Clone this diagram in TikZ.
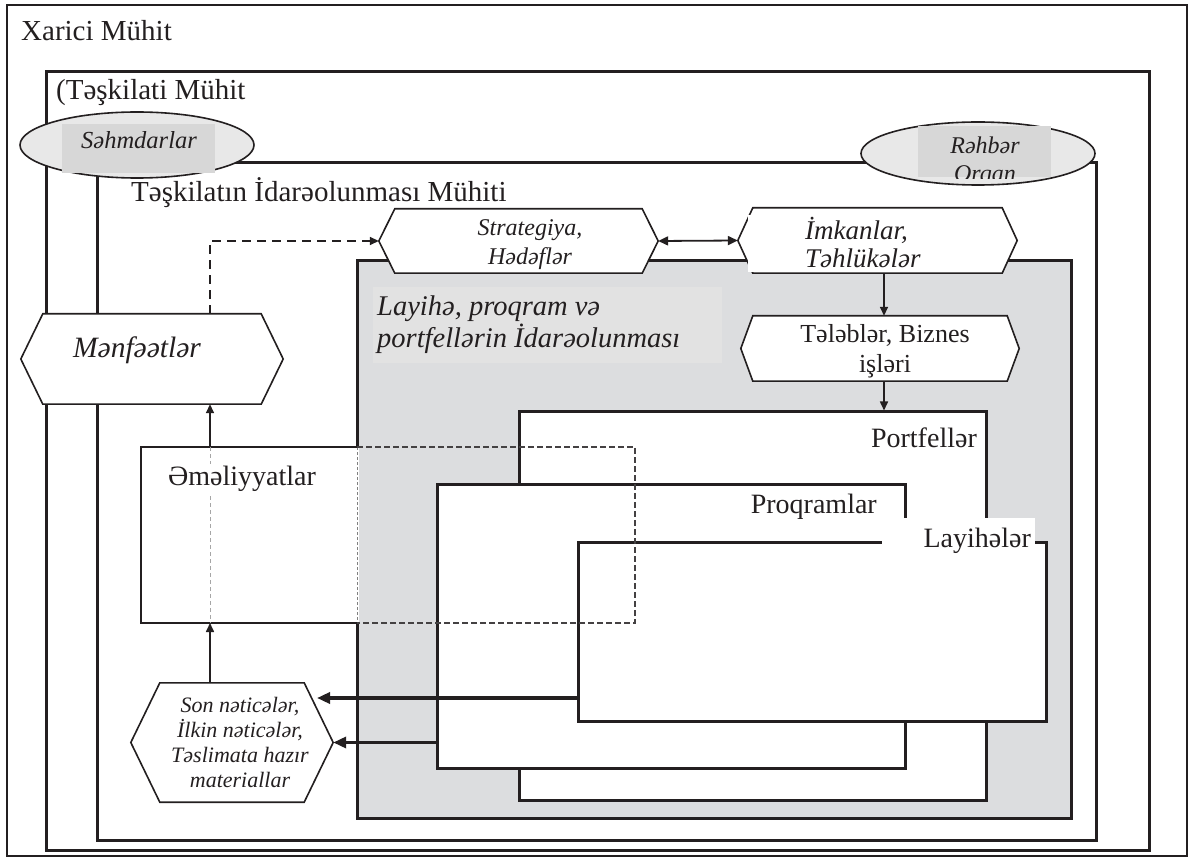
\documentclass[tikz,border=0pt]{standalone}
\usepackage{fontspec}
\setmainfont{Liberation Serif}
\usetikzlibrary{arrows.meta,shapes.geometric}
\definecolor{ink}{HTML}{231F20}
\definecolor{shade}{HTML}{DCDDDF}
\definecolor{lblshade}{HTML}{E2E2E2}
\definecolor{ellfill}{HTML}{E8E8E8}
\definecolor{ellinner}{HTML}{D7D7D7}
\newcommand\fs[2]{\fontsize{#1}{#2}\selectfont}
\newcommand\hexa[2]{%
  \path[hexline] (#1.west) -- ([xshift=#2pt]#1.north west) -- ([xshift=-#2pt]#1.north east) -- (#1.east)
    -- ([xshift=-#2pt]#1.south east) -- ([xshift=#2pt]#1.south west) -- cycle;}
\tikzset{
  boxnode/.style={rectangle, draw=ink, line width=3pt, inner sep=0pt},
  hexframe/.style={rectangle, inner sep=0pt, draw=none},
  hexline/.style={draw=ink, fill=white, line width=1.6pt, line join=miter},
  arr/.style={-{Triangle[length=9pt,width=8pt]}, draw=ink, line width=1.6pt},
  darr/.style={{Triangle[length=10pt,width=9pt]}-{Triangle[length=10pt,width=9pt]}, draw=ink, line width=1.8pt},
  dasharr/.style={-{Triangle[length=9pt,width=8pt]}, draw=ink, line width=1.6pt, dash pattern=on 9pt off 6pt},
  bigarr/.style={-{Triangle[length=13pt,width=11pt]}, draw=ink, line width=3.5pt},
  ell/.style={ellipse, draw=ink, fill=ellfill, line width=1.6pt, inner sep=0pt},
  head/.style={font=\fs{29}{33}, text=ink, inner sep=0pt},
  lbl/.style={font=\fs{28}{32}, text=ink, inner sep=0pt},
  itl/.style={text=ink, inner sep=0pt},
}
\begin{document}
\begin{tikzpicture}[x=1pt,y=-1pt]
\useasboundingbox (0,0) rectangle (1189,858);
\fill[white] (0,0) rectangle (1189,858);
% nested frames
\node[boxnode, line width=2.5pt, minimum width=1180pt, minimum height=851pt] (outer) at (597,430.5) {};
\node[head, anchor=base west] (outer-t) at (21,41) {Xarici Mühit};
\node[boxnode, minimum width=1103pt, minimum height=778pt] (org) at (597.5,461) {};
\node[head, anchor=base west] (org-t) at (56,100) {(Təşkilati Mühit};
\node[boxnode, minimum width=999pt, minimum height=677pt] (gov) at (596.5,501.5) {};
\node[head, anchor=base west] (gov-t) at (131,202) {Təşkilatın İdarəolunması Mühiti};
% shaded management area
\node[boxnode, fill=shade, minimum width=714pt, minimum height=557pt] (ppm) at (714,539.5) {};
\fill[lblshade] (373,287) rectangle (722,363);
\node[itl, font=\fs{28.5}{32}\itshape, align=left, anchor=west] (ppm-t) at (377,324.5) {Layihə, proqram və\\portfellərin İdarəolunması};
% portfolio / program / project boxes
\node[boxnode, fill=white, minimum width=467pt, minimum height=388pt] (port) at (752.5,606) {};
\node[lbl, anchor=base east] (port-t) at (977,447) {Portfellər};
\node[boxnode, fill=white, minimum width=468pt, minimum height=284pt] (prog) at (671,626) {};
\node[lbl, anchor=base east] (prog-t) at (877,513) {Proqramlar};
\node[boxnode, fill=white, minimum width=468pt, minimum height=179pt] (lay) at (812,631.5) {};
\fill[white] (882,518) rectangle (1035,560);
\node[lbl, anchor=base east] (lay-t) at (1031,547) {Layihələr};
% operations box
\coordinate (op-nw) at (141,447);
\coordinate (op-sw) at (141,623);
\coordinate (op-nm) at (357,447);
\coordinate (op-sm) at (357,623);
\coordinate (op-ne) at (635,447);
\coordinate (op-se) at (635,623);
\coordinate (op-top) at (210,447);
\coordinate (op-bot) at (210,623);
\fill[white] (op-nw) rectangle (359,623);
\draw[ink, line width=2.2pt] (op-nm) -- (op-nw) -- (op-sw) -- (op-sm);
\draw[gray, line width=0.8pt, dash pattern=on 3pt off 2pt] (op-nm) -- (op-sm);
\draw[ink!85, line width=1.5pt, dash pattern=on 6pt off 3pt] (op-nm) -- (op-ne) -- (op-se) -- (op-sm);
\draw[gray!70, line width=0.9pt, dash pattern=on 4pt off 3pt] (op-top) -- (op-bot);
\node[lbl, fill=white, inner sep=2pt, anchor=base west] (op-t) at (166,485) {Əməliyyatlar};
% hexagons
\node[hexframe, minimum width=279pt, minimum height=64pt] (strat) at (518.5,241) {};
\hexa{strat}{16}
\node[itl, font=\fs{24}{29}\itshape, align=center] (strat-t) at (530,245) {Strategiya,\\Hədəflər};
\node[hexframe, minimum width=279pt, minimum height=65pt] (imk) at (877.5,240.5) {};
\hexa{imk}{15}
\fill[white] (748,215) rectangle (928,272);
\node[itl, font=\fs{27}{28}\itshape, align=left, anchor=west] (imk-t) at (805,243) {İmkanlar,\\Təhlükələr};
\node[hexframe, minimum width=278pt, minimum height=65pt] (tel) at (880,348.5) {};
\hexa{tel}{12}
\node[itl, font=\fs{26}{30}, align=center] (tel-t) at (885,351) {Tələblər, Biznes\\işləri};
\node[hexframe, minimum width=262pt, minimum height=90pt] (menf) at (152,359) {};
\hexa{menf}{22}
\node[itl, font=\fs{29.5}{32}\itshape, anchor=base] (menf-t) at (137,358) {Mənfəətlər};
\node[hexframe, minimum width=202pt, minimum height=119pt] (son) at (232,742.5) {};
\hexa{son}{29}
\node[itl, font=\fs{22}{25}\itshape, align=center] (son-t) at (240,742) {Son nəticələr,\\İlkin nəticələr,\\Təslimata hazır\\materiallar};
% connectors
\coordinate (ax) at (884,0);
\coordinate (lx) at (210,0);
\coordinate (a1) at (317,698);
\draw[darr] (strat.east) -- (imk.west);
\draw[arr] (imk.south -| ax) -- (tel.north -| ax);
\draw[arr] (tel.south -| ax) -- (port.north -| ax);
\draw[dasharr] (menf.north -| lx) |- (strat.west);
\draw[arr] (op-top) -- (menf.south -| lx);
\draw[arr] (son.north -| lx) -- (op-bot);
\draw[bigarr] (lay.west |- a1) -- (a1);
\draw[bigarr] (prog.west |- son.east) -- (son.east);
% stakeholders ellipses
\node[ell, minimum width=234pt, minimum height=66pt] (sh) at (137,145) {};
\fill[ellinner] (62,124) rectangle (215,173);
\node[itl, font=\fs{24.5}{30}\itshape, anchor=base] (sh-t) at (139,149) {Səhmdarlar};
\node[ell, minimum width=234pt, minimum height=63pt] (rg) at (978,153.5) {};
\fill[ellinner] (918,126) rectangle (1051,177);
\begin{scope}
\clip (918,120) rectangle (1051,179);
\node[itl, font=\fs{24}{28}\itshape, align=center] (rg-t) at (985,161.5) {Rəhbər\\Orqan};
\end{scope}
\end{tikzpicture}
\end{document}
